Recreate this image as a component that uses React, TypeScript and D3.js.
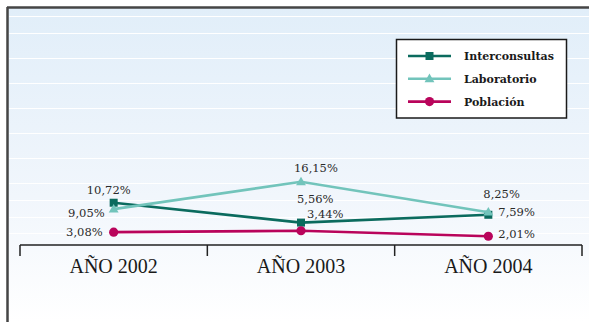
import React from 'react';
import * as d3 from 'd3';

// Categories and series values (percent)
const categories = ['AÑO 2002', 'AÑO 2003', 'AÑO 2004'];
const interconsultas = [10.72, 5.56, 7.59];
const laboratorio = [9.05, 16.15, 8.25];
const poblacion = [3.08, 3.44, 2.01];
const seriesNames = ['Interconsultas', 'Laboratorio', 'Población'];

// Value label placement relative to each point: [dx, dy, anchor]
type Place = [number, number, 'start' | 'end'];
const interPlace: Place[] = [[17, -9, 'end'], [-4, -20, 'start'], [10, 1, 'start']];
const labPlace: Place[] = [[-9, 8, 'end'], [-7, -10, 'start'], [-5, -14, 'start']];
const pobPlace: Place[] = [[-11, 4, 'end'], [6, -13, 'start'], [10, 2, 'start']];

// Decorative background stripes (pixel rows)
const stripeRows = [16, 33, 58, 83, 108, 133, 158, 183, 200, 217, 233];

const W = 589;
const H = 322;

const fmt = (v: number) => v.toFixed(2).replace('.', ',') + '%';

export default function App() {
  const x = d3.scaleBand<string>().domain(categories).range([20, 582]);
  const y = d3.scaleLinear().domain([0, 60]).range([244, 13]);
  const cx = (i: number) => (x(categories[i]) as number) + x.bandwidth() / 2;

  const line = d3
    .line<number>()
    .x((_, i) => cx(i))
    .y((d) => y(d));

  const series = [
    { name: seriesNames[0], values: interconsultas, color: '#0b6b5e', shape: 'square', place: interPlace },
    { name: seriesNames[1], values: laboratorio, color: '#72c4bb', shape: 'triangle', place: labPlace },
    { name: seriesNames[2], values: poblacion, color: '#b9045b', shape: 'circle', place: pobPlace },
  ];

  const marker = (shape: string, px: number, py: number, color: string, key: string) => {
    if (shape === 'square') {
      return <rect key={key} x={px - 4} y={py - 4} width={8} height={8} fill={color} />;
    }
    if (shape === 'triangle') {
      const p = d3.symbol(d3.symbolTriangle, 42)();
      return <path key={key} d={p as string} transform={`translate(${px},${py + 0.5})`} fill={color} />;
    }
    return <circle key={key} cx={px} cy={py} r={4.6} fill={color} />;
  };

  const labelFont = "'DejaVu Serif', serif";
  const ticks = [20, ...categories.map((c) => (x(c) as number) + x.bandwidth())];

  return (
    <svg
      width={W}
      height={H}
      style={{ position: 'absolute', left: 0, top: 0 }}
      xmlns="http://www.w3.org/2000/svg"
    >
      <defs>
        <linearGradient id="bg" x1="0" y1="0" x2="0" y2="1">
          <stop offset="0%" stopColor="#e1eef9" />
          <stop offset="60%" stopColor="#f1f6fc" />
          <stop offset="100%" stopColor="#ffffff" />
        </linearGradient>
      </defs>
      <rect x={0} y={0} width={W} height={H} fill="#ffffff" />
      <rect x={8} y={8} width={W - 8} height={H - 8} fill="url(#bg)" />
      {stripeRows.map((r) => (
        <line key={r} x1={9} x2={W} y1={r + 0.5} y2={r + 0.5} stroke="#ffffff" strokeWidth={1.2} />
      ))}
      {/* frame */}
      <line x1={7} x2={W} y1={7.5} y2={7.5} stroke="#454545" strokeWidth={2.5} />
      <line x1={7.5} x2={7.5} y1={7} y2={H} stroke="#454545" strokeWidth={2.5} />

      {/* category axis */}
      <line x1={20} x2={582} y1={245} y2={245} stroke="#222" strokeWidth={1.5} />
      {ticks.map((t, i) => (
        <line key={i} x1={t} x2={t} y1={245} y2={256} stroke="#222" strokeWidth={1.5} />
      ))}
      {categories.map((c, i) => (
        <text
          key={c}
          x={cx(i)}
          y={273}
          textAnchor="middle"
          fontFamily="'Liberation Serif', serif"
          fontSize={20}
          fill="#1a1a1a"
        >
          {c}
        </text>
      ))}

      {/* series */}
      {series.map((s) => (
        <g key={s.name}>
          <path d={line(s.values) as string} fill="none" stroke={s.color} strokeWidth={2.6} />
          {s.values.map((v, i) => marker(s.shape, cx(i), y(v), s.color, `${s.name}-${i}`))}
        </g>
      ))}
      {series.map((s) =>
        s.values.map((v, i) => (
          <text
            key={`${s.name}-l-${i}`}
            x={cx(i) + s.place[i][0]}
            y={y(v) + s.place[i][1]}
            textAnchor={s.place[i][2]}
            fontFamily={labelFont}
            fontSize={11.5}
            fill="#2a2a2a"
          >
            {fmt(v)}
          </text>
        ))
      )}

      {/* legend */}
      <rect x={396.5} y={39.5} width={170} height={78.5} fill="#ffffff" stroke="#1a1a1a" strokeWidth={1.5} />
      {series.map((s, i) => {
        const ly = 56 + i * 22.8;
        return (
          <g key={`lg-${s.name}`}>
            <line x1={408} x2={451} y1={ly} y2={ly} stroke={s.color} strokeWidth={2.6} />
            {marker(s.shape, 429.5, ly, s.color, `lgm-${i}`)}
            <text
              x={464}
              y={ly + 4}
              fontFamily={labelFont}
              fontWeight="bold"
              fontSize={11}
              fill="#1a1a1a"
            >
              {s.name}
            </text>
          </g>
        );
      })}
    </svg>
  );
}
